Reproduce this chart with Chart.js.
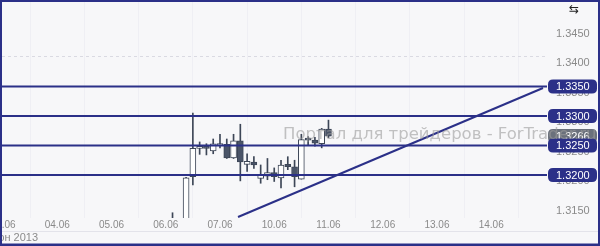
<!DOCTYPE html>
<html>
<head>
<meta charset="utf-8">
<script src="https://cdn.jsdelivr.net/npm/chart.js@4.4.1/dist/chart.umd.min.js"></script>
<style>
  html, body { margin: 0; padding: 0; background: #f7f7f9; }
  #box { width: 600px; height: 246px; }
</style>
</head>
<body>
<div id="box"><canvas id="myChart" width="600" height="246"></canvas></div>
<script>
// day labels on the time axis, one every 8 bars (3 hour candles)
var dayLabels = ['03.06', '04.06', '05.06', '06.06', '07.06', '10.06', '11.06', '12.06', '13.06', '14.06'];
var barsPerDay = 8;
var monthLabel = 'июн 2013';

// candles: bar index, open, high, low, close
var candleIdx = [25, 26, 27, 28, 29, 30, 31, 32, 33, 34, 35, 36, 37, 38, 39, 40, 41, 42, 43, 44, 45, 46, 47, 48];
var opens  = [1.3112, 1.3106, 1.3108, 1.3197, 1.3245, 1.3247, 1.3241, 1.3250, 1.3252, 1.3229, 1.3258, 1.3218,
              1.3222, 1.3194, 1.3198, 1.3204, 1.3195, 1.3218, 1.3214, 1.3193, 1.3260, 1.3259, 1.3253, 1.3278];
var highs  = [1.3136, 1.3124, 1.3196, 1.3305, 1.3256, 1.3253, 1.3261, 1.3269, 1.3261, 1.3269, 1.3286, 1.3236,
              1.3231, 1.3217, 1.3228, 1.3212, 1.3225, 1.3231, 1.3225, 1.3269, 1.3265, 1.3264, 1.3279, 1.3293];
var lows   = [1.3100, 1.3098, 1.3100, 1.3183, 1.3235, 1.3234, 1.3236, 1.3246, 1.3228, 1.3228, 1.3190, 1.3206,
              1.3211, 1.3186, 1.3192, 1.3189, 1.3178, 1.3209, 1.3180, 1.3193, 1.3251, 1.3249, 1.3246, 1.3263];
var closes = [1.3120, 1.3116, 1.3195, 1.3245, 1.3247, 1.3245, 1.3253, 1.3252, 1.3229, 1.3258, 1.3222, 1.3223,
              1.3217, 1.3200, 1.3204, 1.3197, 1.3217, 1.3214, 1.3197, 1.3260, 1.3259, 1.3254, 1.3278, 1.3266];

// horizontal levels and trend line
var levels = [1.3350, 1.3300, 1.3250, 1.3200];
var trendX = [34.66, 79.64];
var trendY = [1.31288, 1.33475];

// price axis ticks (grid only on the round ones)
var priceTicks = [1.3150, 1.3200, 1.3250, 1.3300, 1.3350, 1.3400, 1.3450];
var gridTicks = [1.3200, 1.3300, 1.3400];

var xMin = -0.15, xMax = 80.23;
var yMin = 1.31271, yMax = 1.34932;

var navy = '#2b3088';
var candleLine = '#3d4657';
var bearFill = '#4a5468';
var font = "'Liberation Sans', Arial, sans-serif";

var bodies = candleIdx.map(function (x, i) { return { x: x, y: [opens[i], closes[i]] }; });
var wicks = candleIdx.map(function (x, i) { return { x: x, y: [lows[i], highs[i]] }; });
var bodyColors = candleIdx.map(function (x, i) { return closes[i] >= opens[i] ? '#ffffff' : bearFill; });

var datasets = [];
levels.forEach(function (lv) {
    datasets.push({
        type: 'line', data: [{ x: xMin, y: lv }, { x: xMax, y: lv }],
        borderColor: navy, borderWidth: 2, pointRadius: 0, order: 0
    });
});
datasets.push({
    type: 'line', data: [{ x: trendX[0], y: trendY[0] }, { x: trendX[1], y: trendY[1] }],
    borderColor: navy, borderWidth: 2, pointRadius: 0, order: 0
});
datasets.push({
    type: 'bar', data: bodies, grouped: false, barThickness: 6, minBarLength: 2,
    backgroundColor: bodyColors, borderColor: candleLine, borderWidth: 1, borderSkipped: false, order: 1
});
datasets.push({
    type: 'bar', data: wicks, grouped: false, barThickness: 1,
    backgroundColor: candleLine, borderWidth: 0, order: 2
});

function roundBox(ctx, x, y, w, h, r) {
    ctx.beginPath();
    ctx.moveTo(x + r, y);
    ctx.lineTo(x + w - r, y);
    ctx.quadraticCurveTo(x + w, y, x + w, y + r);
    ctx.lineTo(x + w, y + h - r);
    ctx.quadraticCurveTo(x + w, y + h, x + w - r, y + h);
    ctx.lineTo(x + r, y + h);
    ctx.quadraticCurveTo(x, y + h, x, y + h - r);
    ctx.lineTo(x, y + r);
    ctx.quadraticCurveTo(x, y, x + r, y);
    ctx.closePath();
}

// no automatic label padding, the plot should fill the frame
function noPad(scale) {
    scale.paddingTop = 0;
    scale.paddingBottom = 0;
    scale.paddingLeft = 0;
    scale.paddingRight = 0;
}

var decor = {
    id: 'decor',
    beforeDraw: function (chart) {
        var ctx = chart.ctx;
        ctx.save();
        ctx.fillStyle = '#f7f7f9';
        ctx.fillRect(0, 0, chart.width, chart.height);
        ctx.restore();
    },
    afterDraw: function (chart) {
        var ctx = chart.ctx;
        var ys = chart.scales.y;
        ctx.save();
        // tags on the price axis
        function tag(value, color) {
            var py = ys.getPixelForValue(value);
            ctx.fillStyle = color;
            roundBox(ctx, 548, py - 7, 49, 14, 5);
            ctx.fill();
            ctx.fillStyle = '#ffffff';
            ctx.font = '11px ' + font;
            ctx.textAlign = 'left';
            ctx.textBaseline = 'middle';
            ctx.fillText(value.toFixed(4), 556, py + 0.5);
        }
        tag(closes[closes.length - 1], '#6b717c');
        levels.forEach(function (lv) { tag(lv, navy); });

        // watermark
        ctx.fillStyle = 'rgba(155,155,155,0.6)';
        ctx.font = "16.5px 'DejaVu Sans', sans-serif";
        ctx.textAlign = 'left';
        ctx.textBaseline = 'alphabetic';
        ctx.fillText('Портал для трейдеров - ForTrader.ru', 283, 139);

        // small icon in the corner
        ctx.fillStyle = '#222222';
        ctx.font = "12px 'DejaVu Sans', sans-serif";
        ctx.textAlign = 'center';
        ctx.textBaseline = 'middle';
        ctx.fillText('⇆', 574, 10);

        // bottom strip
        ctx.strokeStyle = '#e3e3ea';
        ctx.lineWidth = 1;
        ctx.beginPath();
        ctx.moveTo(0, 231.5);
        ctx.lineTo(600, 231.5);
        ctx.stroke();
        ctx.fillStyle = '#8a8a8a';
        ctx.font = '11px ' + font;
        ctx.textAlign = 'left';
        ctx.fillText(monthLabel, -10, 238);

        // frame
        ctx.strokeStyle = navy;
        ctx.lineWidth = 3;
        ctx.strokeRect(0.5, 0.5, chart.width - 1, chart.height - 1.5);
        ctx.restore();
    }
};

var ctx = document.getElementById('myChart').getContext('2d');
var myChart = new Chart(ctx, {
    type: 'bar',
    data: { datasets: datasets },
    options: {
        responsive: false,
        animation: false,
        events: [],
        layout: { padding: { left: 2, top: 2, right: 0, bottom: 0 } },
        plugins: { legend: { display: false }, tooltip: { enabled: false } },
        scales: {
            x: {
                type: 'linear', position: 'bottom', min: xMin, max: xMax, offset: false,
                afterBuildTicks: function (scale) {
                    scale.ticks = dayLabels.map(function (d, i) { return { value: i * barsPerDay }; });
                },
                afterFit: function (scale) { scale.height = 28; noPad(scale); },
                grid: { color: '#efeff4', drawTicks: false },
                border: { display: false },
                ticks: {
                    autoSkip: false, maxRotation: 0, padding: 1, color: '#8a8a8a',
                    font: { family: font, size: 10 },
                    callback: function (v) { return dayLabels[Math.round(v / barsPerDay)]; }
                }
            },
            y: {
                type: 'linear', position: 'right', min: yMin, max: yMax,
                afterBuildTicks: function (scale) {
                    scale.ticks = priceTicks.map(function (p) { return { value: p }; });
                },
                afterFit: function (scale) { scale.width = 53; noPad(scale); },
                grid: {
                    drawTicks: false,
                    color: function (c) {
                        var v = c.tick ? c.tick.value : 0;
                        var on = gridTicks.some(function (g) { return Math.abs(g - v) < 1e-6; });
                        return on ? '#dadae2' : 'rgba(0,0,0,0)';
                    }
                },
                border: { display: false, dash: [3, 3] },
                ticks: {
                    padding: 9, labelOffset: 6, color: '#8a8a8a',
                    font: { family: font, size: 11 },
                    callback: function (v) { return v.toFixed(4); }
                }
            }
        }
    },
    plugins: [decor]
});
</script>
</body>
</html>
